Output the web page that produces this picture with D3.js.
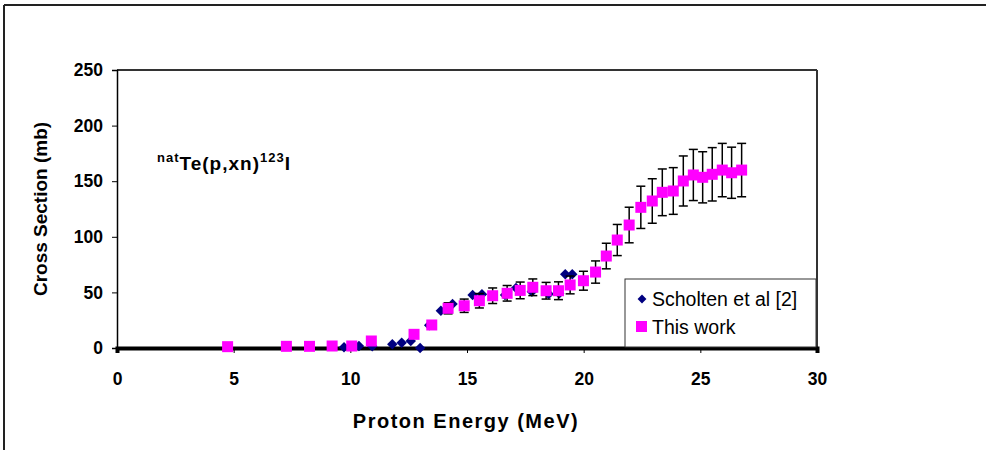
<!DOCTYPE html>
<html>
<head>
<meta charset="utf-8">
<script src="https://cdn.jsdelivr.net/npm/d3@7"></script>
<style>
  body { margin: 0; background: #fff; }
  text { font-family: "Liberation Sans", Arial, sans-serif; }
</style>
</head>
<body>
<div id="main"></div>
<script>
// this work (energy MeV, cross section mb, error mb)
var workE  = [4.74, 7.26, 8.25, 9.22, 10.06, 10.9, 12.73, 13.49, 14.19, 14.88, 15.53, 16.1, 16.72, 17.28, 17.82, 18.39, 18.92, 19.42, 19.99, 20.51, 20.97, 21.44, 21.95, 22.45, 22.94, 23.37, 23.84, 24.27, 24.7, 25.1, 25.51, 25.94, 26.34, 26.77];
var workXS = [1.2, 1.5, 1.5, 1.8, 1.8, 6.3, 12.3, 20.7, 35.7, 38, 42.5, 47, 49.2, 51.8, 54.6, 51.5, 51.5, 56.7, 60.5, 68.3, 82.7, 97.1, 110.6, 126.5, 132.2, 140, 141.2, 150.2, 155.6, 153.5, 156.2, 160, 157.6, 160];
var workErr = [0.2, 0.3, 0.3, 0.3, 0.3, 1, 2, 3, 5, 6, 6.5, 7, 7, 7.5, 7.5, 7.5, 8, 8, 8.5, 10, 11.5, 14, 16, 19, 20, 21, 21, 22.5, 23, 23, 24, 24, 23, 24];

// Scholten et al [2]
var schE  = [9.73, 10.37, 10.94, 11.8, 12.2, 12.59, 12.99, 13.38, 13.88, 14.38, 15.24, 15.64, 16.63, 17.1, 17.78, 18.5, 18.95, 19.21, 19.51];
var schXS = [0.6, 1.8, 1.5, 3.3, 4.8, 6.3, 0, 20.5, 33.5, 39.5, 47.7, 48.3, 47.7, 54, 50.6, 48.6, 49, 66.3, 66.3];

var xTicks = [0, 5, 10, 15, 20, 25, 30];
var yTicks = [0, 50, 100, 150, 200, 250];
var legendNames = ["Scholten et al [2]", "This work"];

var svg = d3.select("#main").append("svg")
    .attr("width", 986)
    .attr("height", 450);

// outer frame
svg.append("line").attr("x1", 4).attr("y1", 5).attr("x2", 986).attr("y2", 5)
    .attr("stroke", "#222").attr("stroke-width", 2);
svg.append("line").attr("x1", 4).attr("y1", 5).attr("x2", 4).attr("y2", 450)
    .attr("stroke", "#222").attr("stroke-width", 2);

var x = d3.scaleLinear().domain([0, 30]).range([117, 817]);
var y = d3.scaleLinear().domain([0, 250]).range([348, 70]);

// plot frame top & right
svg.append("line").attr("x1", x(0)).attr("y1", y(250)).attr("x2", x(30)).attr("y2", y(250))
    .attr("stroke", "#333").attr("stroke-width", 2);
svg.append("line").attr("x1", x(30)).attr("y1", y(250)).attr("x2", x(30)).attr("y2", y(0))
    .attr("stroke", "#333").attr("stroke-width", 2);

// y axis
var yAxis = svg.append("g")
    .attr("transform", "translate(" + x(0) + ",0)")
    .call(d3.axisLeft(y).tickValues(yTicks).tickSize(5).tickPadding(9));
yAxis.select(".domain").attr("stroke", "#000").attr("stroke-width", 1.5);
yAxis.selectAll("text").style("font-size", "17.5px").style("font-weight", "bold")
    .style("font-family", "'Liberation Sans', Arial, sans-serif").attr("fill", "#000");

// x axis
var xAxis = svg.append("g")
    .attr("transform", "translate(0," + y(0) + ")")
    .call(d3.axisBottom(x).tickValues(xTicks).tickSize(5).tickPadding(20));
xAxis.select(".domain").attr("stroke", "#000").attr("stroke-width", 4);
xAxis.selectAll("text").style("font-size", "17.5px").style("font-weight", "bold")
    .style("font-family", "'Liberation Sans', Arial, sans-serif").attr("fill", "#000");

// axis titles
svg.append("text")
    .attr("x", 466).attr("y", 428)
    .attr("text-anchor", "middle")
    .style("font-size", "20px").style("font-weight", "bold")
    .style("letter-spacing", "1.5px")
    .text("Proton Energy (MeV)");
svg.append("text")
    .attr("transform", "translate(47,209) rotate(-90)")
    .attr("text-anchor", "middle")
    .style("font-size", "19px").style("font-weight", "bold")
    .text("Cross Section (mb)");

// reaction label
var lab = svg.append("text").attr("x", 157).attr("y", 170)
    .style("font-size", "19px").style("font-weight", "bold")
    .style("letter-spacing", "1px");
lab.append("tspan").attr("dy", -8).style("font-size", "13px").text("nat");
lab.append("tspan").attr("dy", 8).text("Te(p,xn)");
lab.append("tspan").attr("dy", -8).style("font-size", "13px").text("123");
lab.append("tspan").attr("dy", 8).text("I");

// Scholten diamonds
var diamond = d3.symbol().type(d3.symbolDiamond2).size(70);
svg.append("g").selectAll("path")
    .data(schE.map(function(e, i) { return [e, schXS[i]]; }))
    .join("path")
    .attr("d", diamond)
    .attr("transform", function(d) { return "translate(" + x(d[0]) + "," + y(d[1]) + ")"; })
    .attr("fill", "#000080");

// error bars
var work = workE.map(function(e, i) { return {e: e, v: workXS[i], err: workErr[i]}; });
var eb = svg.append("g").attr("stroke", "#000").attr("stroke-width", 1.5);
eb.selectAll(".v").data(work).join("line").attr("class", "v")
    .attr("x1", function(d) { return x(d.e); }).attr("x2", function(d) { return x(d.e); })
    .attr("y1", function(d) { return y(d.v - d.err); }).attr("y2", function(d) { return y(d.v + d.err); });
eb.selectAll(".t").data(work).join("line").attr("class", "t")
    .attr("x1", function(d) { return x(d.e) - 4.5; }).attr("x2", function(d) { return x(d.e) + 4.5; })
    .attr("y1", function(d) { return y(d.v + d.err); }).attr("y2", function(d) { return y(d.v + d.err); });
eb.selectAll(".b").data(work).join("line").attr("class", "b")
    .attr("x1", function(d) { return x(d.e) - 4.5; }).attr("x2", function(d) { return x(d.e) + 4.5; })
    .attr("y1", function(d) { return y(d.v - d.err); }).attr("y2", function(d) { return y(d.v - d.err); });

// this work squares
svg.append("g").selectAll("rect").data(work).join("rect")
    .attr("x", function(d) { return x(d.e) - 5.5; })
    .attr("y", function(d) { return y(d.v) - 5.5; })
    .attr("width", 11).attr("height", 11)
    .attr("fill", "#ff00ff");

// legend
var leg = svg.append("g");
leg.append("rect").attr("x", 625).attr("y", 279).attr("width", 191).attr("height", 68)
    .attr("fill", "#fff").attr("stroke", "#333").attr("stroke-width", 1);
leg.append("path").attr("d", d3.symbol().type(d3.symbolDiamond2).size(50))
    .attr("transform", "translate(642,299)").attr("fill", "#000080");
leg.append("rect").attr("x", 636).attr("y", 321).attr("width", 11).attr("height", 11)
    .attr("fill", "#ff00ff");
leg.append("text").attr("x", 652).attr("y", 306).style("font-size", "19.5px").text(legendNames[0]);
leg.append("text").attr("x", 652).attr("y", 334).style("font-size", "19.5px").text(legendNames[1]);
</script>
</body>
</html>
